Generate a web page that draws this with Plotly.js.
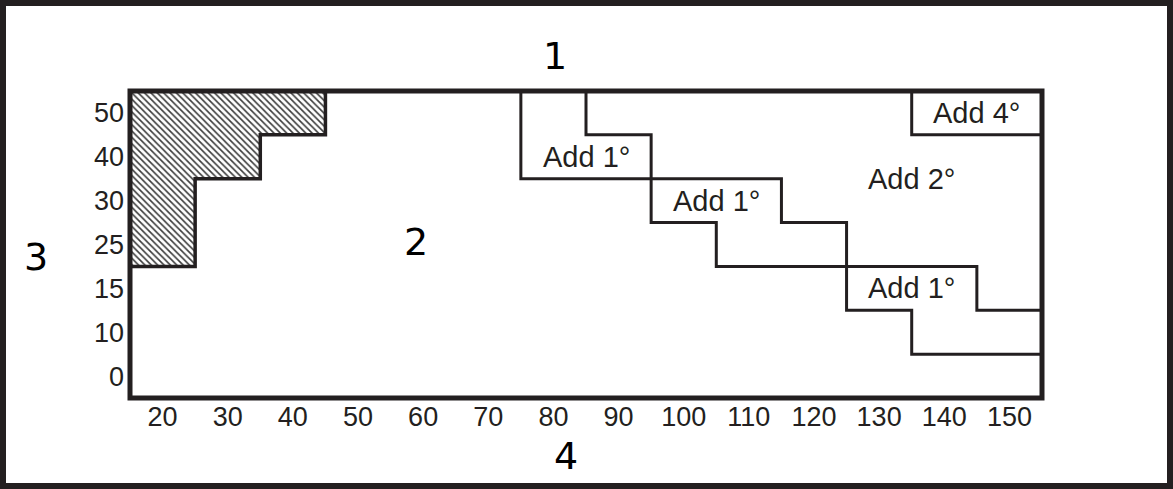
<!DOCTYPE html>
<html>
<head>
<meta charset="utf-8">
<script src="https://cdn.plot.ly/plotly-3.0.1.min.js"></script>
<style>
  html, body { margin: 0; padding: 0; background: #ffffff; }
  #chart { width: 1173px; height: 489px; }
</style>
</head>
<body>
<div id="chart"></div>
<script>
// ---- Data ----
const xLabels = ['20','30','40','50','60','70','80','90','100','110','120','130','140','150'];
const yLabels = ['0','10','15','25','30','40','50'];

// hatched region: columns and the lowest row covered in each column
const hatchCols   = ['20','30','40'];
const hatchLowest = ['25','40','50'];

// lower edge of the "Add 1°" bands
const add1Cols   = ['80','90','100','110','120','130','140','150'];
const add1Lowest = ['40','40','40','40','30','15','10','10'];

// lower edge of the "Add 2°" zone
const add2Cols   = ['90','100','110','120','130','140','150'];
const add2Lowest = ['50','30','25','25','25','25','15'];

// lower edge of the "Add 4°" zone
const add4Cols   = ['140','150'];
const add4Lowest = ['50','50'];

const zoneLabels = ['Add 1°','Add 1°','Add 1°','Add 2°','Add 4°'];
const cornerLabels = ['1','2','3','4'];

// ---- Build step paths through the axis scales ----
const TOP = yLabels.length;
function stepPath(cols, lowest) {
  const xs = [], ys = [];
  const c0 = xLabels.indexOf(cols[0]);
  xs.push(c0); ys.push(TOP);
  for (let k = 0; k < cols.length; k++) {
    const c = xLabels.indexOf(cols[k]);
    const lvl = yLabels.indexOf(lowest[k]);
    xs.push(c, c + 1); ys.push(lvl, lvl);
  }
  return {xs, ys};
}

const ink = '#231f20';
const hatch = stepPath(hatchCols, hatchLowest);
hatch.xs.push(hatch.xs[hatch.xs.length - 1]); hatch.ys.push(TOP);

const traces = [];
traces.push({
  x: hatch.xs, y: hatch.ys, type: 'scatter', mode: 'lines',
  fill: 'toself', fillcolor: '#ffffff',
  fillpattern: {shape: '\\', size: 4.5, solidity: 0.35, fgcolor: '#3a3a3a', bgcolor: '#ffffff'},
  line: {color: ink, width: 3.5}, hoverinfo: 'skip', showlegend: false
});
[[add1Cols, add1Lowest], [add2Cols, add2Lowest], [add4Cols, add4Lowest]].forEach(([c, l]) => {
  const p = stepPath(c, l);
  traces.push({
    x: p.xs, y: p.ys, type: 'scatter', mode: 'lines',
    line: {color: ink, width: 3}, hoverinfo: 'skip', showlegend: false
  });
});

// ---- Layout ----
const W = 1173, H = 489, ML = 130, MR = 131, MT = 91, MB = 91;
const PW = W - ML - MR, PH = H - MT - MB;
const px = v => (v - ML) / PW;
const py = v => (H - MB - v) / PH;

const zonePos = [[7, 5.5], [9, 4.5], [12, 2.5], [12, 5.0], [13, 6.5]];
const annotations = zoneLabels.map((t, i) => ({
  x: zonePos[i][0], y: zonePos[i][1], xref: 'x', yref: 'y', text: t,
  showarrow: false, xanchor: 'center', yanchor: 'middle',
  font: {family: 'Liberation Sans, Arial, sans-serif', size: 29, color: ink}
}));
const cornerPos = [[555, 56], [416, 242], [36, 257], [566, 456]];
cornerLabels.forEach((t, i) => {
  annotations.push({
    x: px(cornerPos[i][0]), y: py(cornerPos[i][1]), xref: 'paper', yref: 'paper',
    text: t, showarrow: false, xanchor: 'center', yanchor: 'middle',
    font: {family: 'DejaVu Sans, sans-serif', size: 38, color: '#000000'}
  });
});

const layout = {
  width: W, height: H,
  margin: {l: ML, r: MR, t: MT, b: MB, pad: 0},
  paper_bgcolor: '#ffffff', plot_bgcolor: '#ffffff',
  showlegend: false,
  xaxis: {
    range: [0, xLabels.length], tickvals: xLabels.map((_, i) => i + 0.5), ticktext: xLabels,
    showgrid: false, zeroline: false, showline: false, ticks: '',
    tickfont: {family: 'Liberation Sans, Arial, sans-serif', size: 27, color: ink},
    fixedrange: true
  },
  yaxis: {
    range: [0, yLabels.length], tickvals: yLabels.map((_, i) => i + 0.5), ticktext: yLabels,
    showgrid: false, zeroline: false, showline: false, ticks: '',
    ticklabelstandoff: 5,
    tickfont: {family: 'Liberation Sans, Arial, sans-serif', size: 27, color: ink},
    fixedrange: true
  },
  shapes: [
    {type: 'rect', xref: 'paper', yref: 'paper', x0: 0, x1: 1, y0: 0, y1: 1,
     line: {color: ink, width: 5}, layer: 'above'},
    {type: 'rect', xref: 'paper', yref: 'paper', x0: px(3), x1: px(1170), y0: py(486), y1: py(3),
     line: {color: ink, width: 6}, layer: 'above'}
  ],
  annotations: annotations
};

Plotly.newPlot('chart', traces, layout, {displayModeBar: false, staticPlot: true});
</script>
</body>
</html>
